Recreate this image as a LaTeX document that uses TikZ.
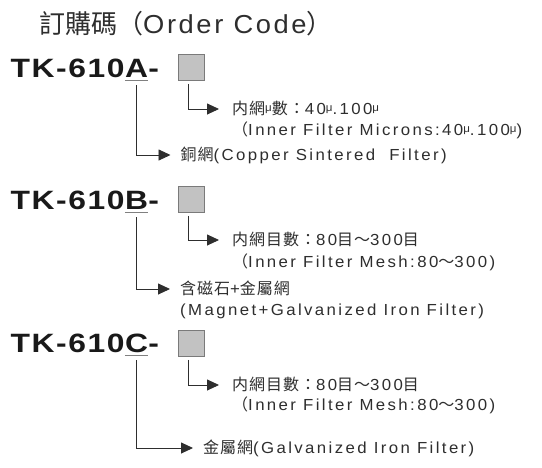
\documentclass[tikz,border=0pt]{standalone}
\usepackage{fontspec}
\setmainfont{Liberation Sans}
\newfontfamily\titlefont[FakeStretch=1.05,LetterSpace=10]{Liberation Sans}
\newfontfamily\titlecjk{Noto Sans CJK TC}
\newfontfamily\tkfont[FakeStretch=1.2,LetterSpace=6]{Liberation Sans Bold}
\newfontfamily\lblfont[FakeStretch=1.05,LetterSpace=15]{Liberation Sans}
\newfontfamily\cjk[LetterSpace=6]{Noto Sans CJK TC}
\usetikzlibrary{arrows.meta}
\definecolor{ink}{HTML}{2E2E2E}
\definecolor{boxfill}{HTML}{C2C2C2}
\definecolor{boxedge}{HTML}{7A7A7A}
\definecolor{ulcol}{HTML}{808080}
\newcommand\mymu{\raisebox{3pt}{\fontsize{11}{11}\selectfont μ}}
\tikzset{
  titletext/.style={font=\fontsize{26}{30}\selectfont\titlefont, text=ink, inner sep=0pt, anchor=base west},
  tk/.style={font=\fontsize{26.5}{30}\selectfont\tkfont, text=black!90, inner sep=0pt},
  codebox/.style={draw=boxedge, fill=boxfill, line width=0.8pt, minimum size=26pt, inner sep=0pt, anchor=north west},
  lbl/.style={font=\fontsize{16}{18}\selectfont\lblfont, text=ink, inner sep=0pt, text height=11.6pt, text depth=0pt, anchor=west},
  conn/.style={draw=ink, line width=0.9pt, -{Triangle[length=12pt,width=11pt]}},
  uline/.style={draw=ulcol, line width=1pt},
}
\begin{document}
\begin{tikzpicture}[x=1pt,y=-1pt]
\useasboundingbox (0,0) rectangle (542,467);
\fill[white] (0,0) rectangle (542,467);

% title
\node[titletext] (title) at (39,33.5) {{\titlecjk 訂購碼（}Order Code{\titlecjk ）}};

% ---------------- A ----------------
\node[tk, anchor=base] (la) at (136.5,77.5) {A};
\node[tk, anchor=base east] (pa) at (la.base west) {TK-610};
\node[tk, anchor=base west] (da) at (la.base east) {-};
\node[codebox] (ba) at (177.5,54) {};
\draw[uline] ([yshift=-3.2pt]la.base west) -- ([yshift=-3.2pt]la.base east);
\coordinate (ua) at ([yshift=-7.5pt]la.base);
\coordinate (ka) at ([xshift=-2.8pt,yshift=-3pt]ba.south);
\node[lbl] (a1) at (232,109) {{\cjk 内網}\mymu{\cjk 數：}40\mymu.100\mymu};
\node[lbl] (a2) at (232,130) {{\cjk （}Inner Filter Microns:40\mymu.100\mymu)};
\node[lbl] (a3) at (180.5,155) {{\cjk 銅網}(Copper Sintered\ \ Filter)};
\draw[conn] (ka) |- ([xshift=-13pt]a1.west);
\draw[conn] (ua) |- ([xshift=-10pt]a3.west);

% ---------------- B ----------------
\node[tk, anchor=base] (lb) at (136.5,209.5) {B};
\node[tk, anchor=base east] (pb) at (lb.base west) {TK-610};
\node[tk, anchor=base west] (db) at (lb.base east) {-};
\node[codebox] (bb) at (177.5,186) {};
\draw[uline] ([yshift=-3.2pt]lb.base west) -- ([yshift=-3.2pt]lb.base east);
\coordinate (ub) at ([yshift=-7.5pt]lb.base);
\coordinate (kb) at ([xshift=-2.8pt,yshift=-3pt]bb.south);
\node[lbl] (b1) at (232,240) {{\cjk 内網目數：}80{\cjk 目～}300{\cjk 目}};
\node[lbl] (b2) at (232,262) {{\cjk （}Inner Filter Mesh:80{\cjk ～}300)};
\node[lbl] (b3) at (180,289) {{\cjk 含磁石}+{\cjk 金屬網}};
\node[lbl] (b4) at (180,310) {(Magnet+Galvanized Iron Filter)};
\draw[conn] (kb) |- ([xshift=-13pt]b1.west);
\draw[conn] (ub) |- ([xshift=-10pt]b3.west);

% ---------------- C ----------------
\node[tk, anchor=base] (lc) at (136.5,352.5) {C};
\node[tk, anchor=base east] (pc) at (lc.base west) {TK-610};
\node[tk, anchor=base west] (dc) at (lc.base east) {-};
\node[codebox] (bc) at (177.5,330) {};
\draw[uline] ([yshift=-3.2pt]lc.base west) -- ([yshift=-3.2pt]lc.base east);
\coordinate (uc) at ([yshift=-7.5pt]lc.base);
\coordinate (kc) at ([xshift=-2.8pt,yshift=-3pt]bc.south);
\node[lbl] (c1) at (232,385) {{\cjk 内網目數：}80{\cjk 目～}300{\cjk 目}};
\node[lbl] (c2) at (232,405) {{\cjk （}Inner Filter Mesh:80{\cjk ～}300)};
\node[lbl] (c3) at (203,448) {{\cjk 金屬網}(Galvanized Iron Filter)};
\draw[conn] (kc) |- ([xshift=-13pt]c1.west);
\draw[conn] (uc) |- ([xshift=-10pt]c3.west);
\end{tikzpicture}
\end{document}
